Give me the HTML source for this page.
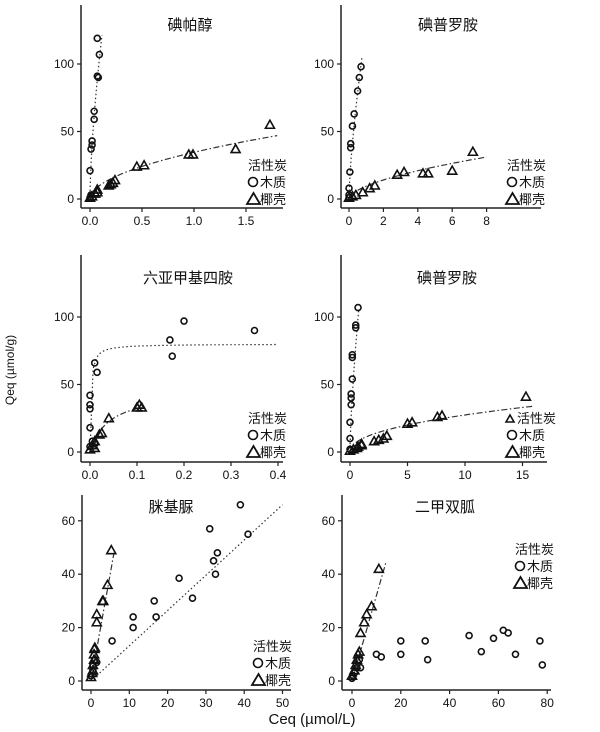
<!DOCTYPE html>
<html><head><meta charset="utf-8"><style>
html,body{margin:0;padding:0;background:#fff;}
svg{display:block;}
text{font-family:"Liberation Sans","Noto Sans CJK SC",sans-serif;fill:#111;}
</style></head><body>
<svg id="s" width="600" height="732" viewBox="0 0 600 732" xmlns="http://www.w3.org/2000/svg">
<text x="14" y="370" font-size="12" text-anchor="middle" transform="rotate(-90 14 370)">Qeq (µmol/g)</text>
<text x="312" y="724" font-size="15" text-anchor="middle">Ceq (µmol/L)</text>
</svg>
<script>
var S=document.getElementById('s'),out='';
function P(o){
 var X=function(v){return o.x0+v*o.sx},Y=function(v){return o.y0-v*o.sy};
 out+='<line x1="'+o.ax+'" y1="'+o.top+'" x2="'+o.ax+'" y2="'+o.ay+'" stroke="#222" stroke-width="1.5"/>';
 out+='<line x1="'+o.ax+'" y1="'+o.ay+'" x2="'+o.right+'" y2="'+o.ay+'" stroke="#222" stroke-width="1.5"/>';
 o.xt.forEach(function(t){var x=X(t[0]);out+='<line x1="'+x+'" y1="'+o.ay+'" x2="'+x+'" y2="'+(o.ay+4)+'" stroke="#222" stroke-width="1.2"/><text x="'+x+'" y="'+(o.ay+17)+'" font-size="12" text-anchor="middle">'+t[1]+'</text>';});
 o.yt.forEach(function(t){var y=Y(t);out+='<line x1="'+(o.ax-4)+'" y1="'+y+'" x2="'+o.ax+'" y2="'+y+'" stroke="#222" stroke-width="1.2"/><text x="'+(o.ax-7)+'" y="'+(y+4)+'" font-size="12" text-anchor="end">'+t+'</text>';});
 out+='<text x="'+o.tx+'" y="'+o.ty+'" font-size="15" text-anchor="middle">'+o.title+'</text>';
 o.curves.forEach(function(c){var d='';for(var i=0;i<=60;i++){var x=c.a+(c.b-c.a)*i/60;d+=(i?'L':'M')+X(x).toFixed(1)+' '+Y(c.f(x)).toFixed(1);}
  out+='<path d="'+d+'" fill="none" stroke="#333" stroke-width="1.2" stroke-dasharray="'+c.dash+'"/>';});
 o.c.forEach(function(p){out+='<circle cx="'+X(p[0])+'" cy="'+Y(p[1])+'" r="3" fill="none" stroke="#111" stroke-width="1.6"/>';});
 o.t.forEach(function(p){var x=X(p[0]),y=Y(p[1]);out+='<path d="M'+(x-4.5)+' '+(y+3.5)+'L'+x+' '+(y-4.5)+'L'+(x+4.5)+' '+(y+3.5)+'Z" fill="none" stroke="#111" stroke-width="1.6"/>';});
 var lx=o.lx,ly=o.ly;
 if(o.extra)out+='<path d="M'+(lx-1)+' '+(ly-1)+'L'+(lx+3)+' '+(ly-8)+'L'+(lx+7)+' '+(ly-1)+'Z" fill="none" stroke="#111" stroke-width="1.6"/>';
 out+='<text x="'+(lx+(o.extra?10:0))+'" y="'+ly+'" font-size="13">活性炭</text>';
 out+='<circle cx="'+(lx+5)+'" cy="'+(ly+12)+'" r="4.5" fill="none" stroke="#111" stroke-width="1.6"/><text x="'+(lx+12)+'" y="'+(ly+17)+'" font-size="13">木质</text>';
 out+='<path d="M'+(lx-1)+' '+(ly+34)+'L'+(lx+5.5)+' '+(ly+23)+'L'+(lx+12)+' '+(ly+34)+'Z" fill="none" stroke="#111" stroke-width="1.8"/><text x="'+(lx+12)+'" y="'+(ly+34)+'" font-size="13">椰壳</text>';
}
var pw=function(a,n){return function(x){return a*Math.pow(Math.max(x,0),n)}};
var lang=function(q,K){return function(x){return q*K*x/(1+K*x)}};
P({ax:81,ay:208,top:5,right:283,x0:90,sx:104,y0:199,sy:1.35,xt:[[0,'0.0'],[0.5,'0.5'],[1,'1.0'],[1.5,'1.5']],yt:[0,50,100],
 title:'碘帕醇',tx:190,ty:30,lx:248,ly:170,
 curves:[{a:0,b:0.115,f:pw(485,0.64),dash:'1.5,2.5'},{a:0,b:1.8,f:pw(34.6,0.52),dash:'6,2.5,1.5,2.5'}],
 c:[[0,1],[0.01,3],[0,21],[0.01,37],[0.02,40],[0.02,43],[0.04,59],[0.04,65],[0.07,91],[0.08,90],[0.09,107],[0.07,119]],
 t:[[0,1],[0.02,2],[0.05,4],[0.07,7],[0.07,5],[0.18,10],[0.2,11],[0.22,12],[0.24,14],[0.45,24],[0.52,25],[0.95,33],[0.99,33],[1.4,37],[1.73,55]]});
P({ax:341,ay:208,top:5,right:541,x0:349,sx:17.2,y0:199,sy:1.35,xt:[[0,'0'],[2,'2'],[4,'4'],[6,'6'],[8,'8']],yt:[0,50,100],
 title:'碘普罗胺',tx:448,ty:30,lx:507,ly:170,
 curves:[{a:0,b:0.75,f:pw(128,0.7),dash:'1.5,2.5'},{a:0,b:8,f:pw(9.5,0.57),dash:'6,2.5,1.5,2.5'}],
 c:[[0,1],[0,3],[0,8],[0.05,20],[0.1,38],[0.1,41],[0.2,54],[0.3,63],[0.5,80],[0.6,90],[0.7,98]],
 t:[[0,1],[0.2,2],[0.4,3],[0.8,5],[1.2,8],[1.5,10],[2.8,18],[3.2,20],[4.3,19],[4.6,19],[6,21],[7.2,35]]});
P({ax:81,ay:462,top:255,right:283,x0:90,sx:470,y0:452,sy:1.35,xt:[[0,'0.0'],[0.1,'0.1'],[0.2,'0.2'],[0.3,'0.3'],[0.4,'0.4']],yt:[0,50,100],
 title:'六亚甲基四胺',tx:188,ty:283,lx:248,ly:423,
 curves:[{a:0,b:0.4,f:lang(80,500),dash:'1.5,2.5'},{a:0,b:0.11,f:lang(45,25),dash:'6,2.5,1.5,2.5'}],
 c:[[0,4],[0.01,6],[0,18],[0,32],[0,35],[0,42],[0.005,8],[0.01,66],[0.015,59],[0.17,83],[0.175,71],[0.2,97],[0.35,90]],
 t:[[0,2],[0.01,3],[0.005,5],[0.01,8],[0.02,13],[0.025,14],[0.04,25],[0.1,33],[0.105,35],[0.11,33]]});
P({ax:341,ay:462,top:255,right:547,x0:350,sx:11.5,y0:452,sy:1.35,xt:[[0,'0'],[5,'5'],[10,'10'],[15,'15']],yt:[0,50,100],
 title:'碘普罗胺',tx:447,ty:283,extra:1,lx:507,ly:423,
 curves:[{a:0,b:0.75,f:pw(128,0.7),dash:'1.5,2.5'},{a:0.5,b:16,f:pw(9.6,0.456),dash:'6,2.5,1.5,2.5'}],
 c:[[0,2],[0,10],[0,22],[0.1,35],[0.1,40],[0.1,43],[0.2,54],[0.2,70],[0.2,72],[0.5,92],[0.5,94],[0.7,107]],
 t:[[0,1],[0.3,2],[0.6,3],[0.7,4],[1,5],[1,6],[2.1,8],[2.5,9],[2.9,10],[3.2,12],[5,21],[5.4,22],[7.6,26],[8,27],[15.3,41]]});
P({ax:82,ay:690,top:495,right:291,x0:91,sx:3.83,y0:681,sy:2.67,xt:[[0,'0'],[10,'10'],[20,'20'],[30,'30'],[40,'40'],[50,'50']],yt:[0,20,40,60],
 title:'脒基脲',tx:171,ty:512,lx:253,ly:651,
 curves:[{a:1.5,b:50,f:function(x){return 1.32*x},dash:'1.5,2.5'},{a:0,b:6,f:function(x){return 8*x},dash:'6,2.5,1.5,2.5'}],
 c:[[0,2],[0.5,4],[0.5,6],[1,8],[1.5,7],[5.5,15],[11,24],[11,20],[16.5,30],[17,24],[23,38.5],[26.5,31],[31,57],[32,45],[32.5,40],[33,48],[39,66],[41,55]],
 t:[[0,1.5],[0.3,3],[0.5,4],[0.5,6],[0.8,8],[0.8,10],[0.9,12],[1,12.5],[1.5,22],[1.5,25],[3,30],[3.2,30],[4.3,36],[5.3,49]]});
P({ax:342,ay:690,top:495,right:551,x0:352,sx:2.44,y0:681,sy:2.67,xt:[[0,'0'],[20,'20'],[40,'40'],[60,'60'],[80,'80']],yt:[0,20,40,60],
 title:'二甲双胍',tx:445,ty:512,lx:515,ly:554,
 curves:[{a:0,b:14,f:function(x){return 3.2*x},dash:'6,2.5,1.5,2.5'}],
 c:[[0,1],[0.5,2],[1,3],[2,5],[3,8],[3.5,5],[10,10],[12,9],[20,15],[20,10],[30,15],[31,8],[48,17],[53,11],[58,16],[62,19],[64,18],[67,10],[77,15],[78,6]],
 t:[[0,2],[1,4],[1.5,6],[2,8],[2.5,10],[3,11],[3.5,18],[5,22],[6,25],[8,28],[11,42]]});
S.insertAdjacentHTML('beforeend',out);
</script>
</body></html>
